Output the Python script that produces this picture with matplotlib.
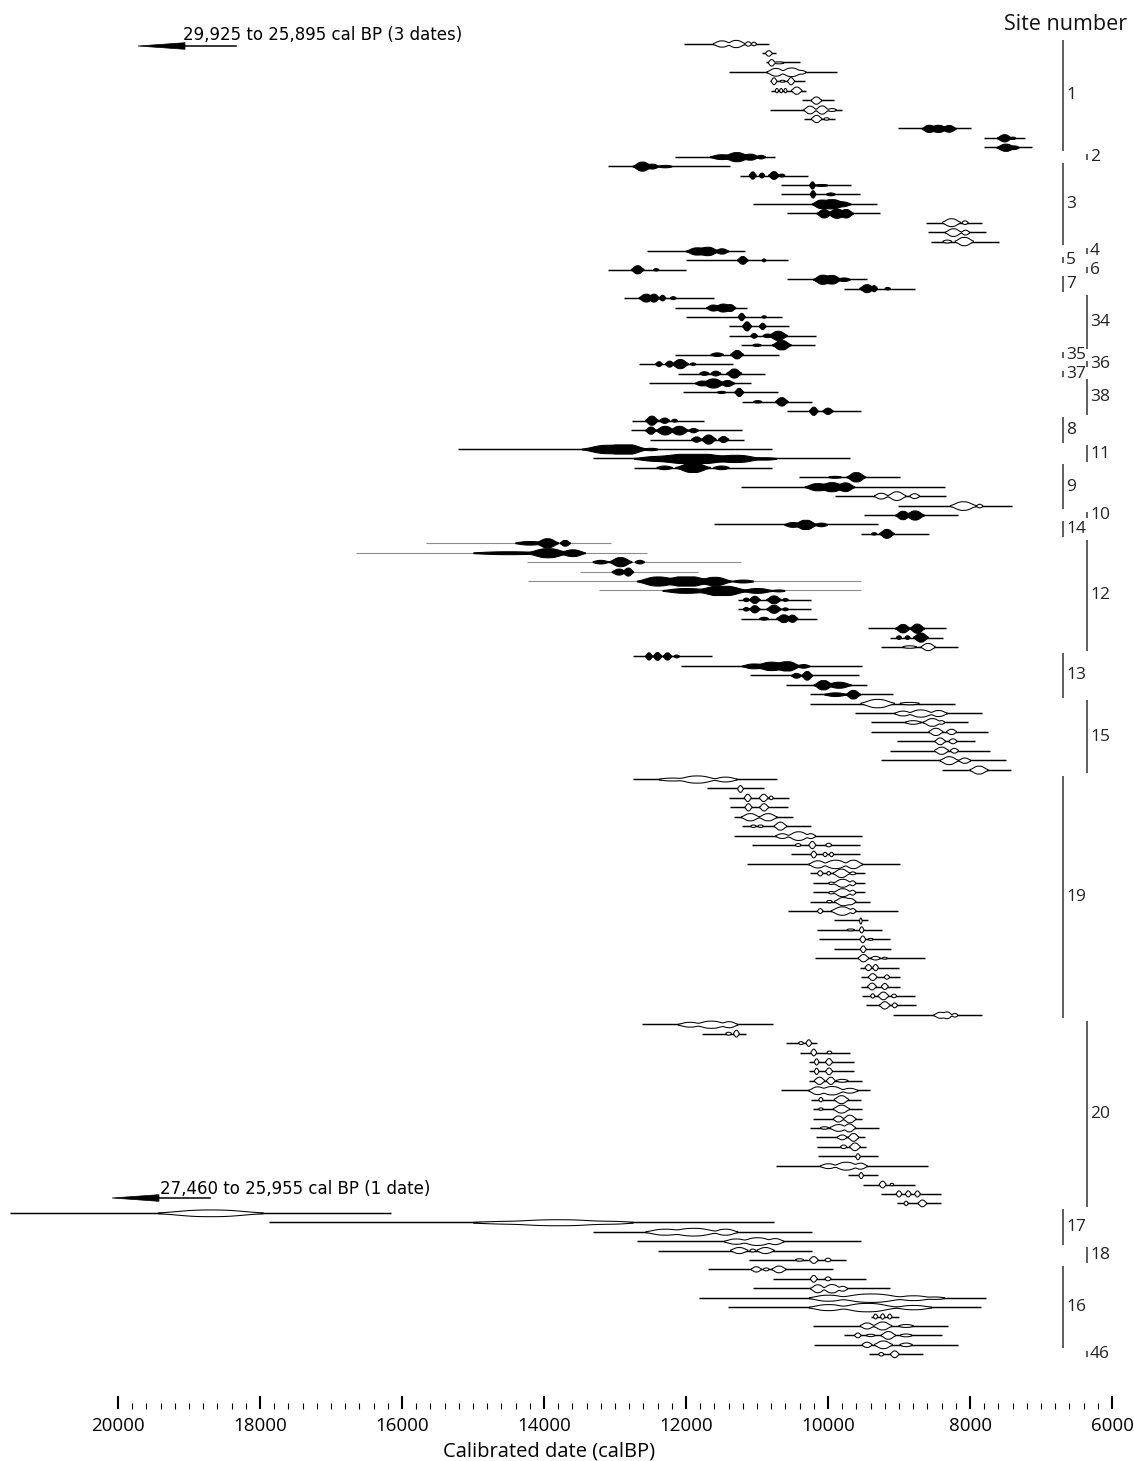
import numpy as np
import matplotlib
matplotlib.use('Agg')
import matplotlib.pyplot as plt
from matplotlib.transforms import Affine2D, blended_transform_factory

# ---------------- data (cal BP) ----------------
# each row: older end of range, younger end of range, peaks [(centre, half-width, half-height px)]
row_ranges_lo = [12035,10930,10870,11390,10820,10805,10365,10815,10345,9020,7800,7800,
 12150,13105,11245,10665,10655,11055,10580,8625,8595,8550,12555,12000,13095,10580,9770,
 12870,12150,12000,11400,11400,11230,12150,12655,12115,12520,12045,11205,10575,12755,
 12780,12505,15215,13310,12730,10410,11230,9895,9015,9500,11610,9535,15655,16650,14245,
 13495,14220,13220,11265,11265,11230,9430,9130,9260,12745,12075,11105,10595,10250,10260,
 9620,9400,9400,9025,9130,9250,8390,12745,11710,11400,11380,11320,11205,11320,11070,10520,
 11140,10260,10210,10210,10250,10570,9910,10150,10120,9910,10185,9545,9535,9535,9525,9460,
 9085,12620,11775,10590,10395,10265,10265,10265,10665,10235,10210,10210,10260,10170,10160,
 10145,10730,9720,9505,9250,9025,21520,17870,13305,12695,12390,11115,11685,10775,11050,
 11815,11405,9395,10215,9770,10195,9425]
row_ranges_hi = [10830,10730,10400,9880,10330,10305,9920,9800,9900,7990,7220,7120,
 10745,11385,10280,9670,9545,9310,9270,7825,7780,7590,11165,10570,12000,9450,8775,
 11600,11145,10645,10555,10175,10185,10695,11345,10885,11090,10700,10230,9540,11740,
 11205,11180,10785,9685,10785,8990,8355,8340,7405,8165,9295,8575,13055,12555,11230,
 11835,9535,9535,10245,10245,10150,8340,8375,8175,11635,9525,9560,9450,9085,8205,
 7825,8025,7745,7930,7720,7495,7420,10715,10895,10555,10565,10490,10235,9525,9545,9545,
 8990,9485,9485,9485,9410,9020,9435,9245,9130,9115,8635,9000,8980,8980,8775,8765,
 7825,10780,11155,10160,9685,9635,9635,9525,9410,9535,9525,9525,9285,9485,9470,
 9300,8585,9300,8770,8415,8415,16160,10755,10230,9535,10230,9740,9935,9470,9120,
 7770,7845,9005,8310,8400,8170,8655]
row_peaks = [
 [(11500,60,2.6),(11300,60,3.0),(11130,30,1.8),(11050,25,1.5)],
 [(10840,30,2.3)],
 [(10800,30,2.7),(10700,50,0.8)],
 [(10740,60,3.2),(10520,70,3.6),(10380,40,1.5)],
 [(10760,25,2.8),(10640,30,0.8),(10520,30,3.0)],
 [(10720,15,1.8),(10660,15,1.8),(10600,15,1.8),(10440,40,3.0)],
 [(10170,40,3.0)],
 [(10260,45,3.2),(10090,45,3.4),(9950,40,1.2)],
 [(10160,40,3.0),(10020,30,1.0)],
 [(8580,50,3.0),(8450,60,3.0),(8300,50,2.8)],
 [(7520,50,3.0),(7400,30,1.0)],
 [(7500,60,3.0),(7380,40,1.5)],
 [(11500,80,2.0),(11290,80,3.8),(11100,60,2.5),(10950,40,1.5)],
 [(12620,60,3.8),(12480,50,2.0),(12300,60,1.0)],
 [(11060,30,3.0),(10930,25,2.0),(10760,40,3.2),(10650,30,1.2)],
 [(10225,25,3.0),(10100,60,0.8)],
 [(10210,25,3.0),(9960,40,1.2)],
 [(10100,60,3.5),(9950,80,4.0),(9800,60,2.0)],
 [(10060,50,3.5),(9880,60,3.8),(9750,50,3.5)],
 [(8260,60,3.3),(8070,30,1.5)],
 [(8240,55,3.2),(8070,35,2.0)],
 [(8320,40,1.2),(8080,60,3.5)],
 [(11850,70,3.0),(11700,70,3.5),(11500,50,2.2)],
 [(11200,40,3.2),(10900,20,1.2)],
 [(12680,45,3.4),(12420,30,1.0)],
 [(10080,60,3.8),(9950,60,3.6),(9780,50,1.5)],
 [(9450,50,3.3),(9350,30,2.5),(9160,30,1.0)],
 [(12560,50,3.3),(12450,40,3.3),(12330,30,2.3),(12180,30,1.2)],
 [(11620,50,2.5),(11480,60,3.3),(11380,40,2.8)],
 [(11215,30,3.0),(10900,25,1.0)],
 [(11140,35,3.8),(10920,30,2.6)],
 [(11040,30,2.0),(10850,40,1.5),(10700,60,3.8)],
 [(11000,40,1.0),(10650,60,4.0)],
 [(11560,50,1.5),(11280,45,3.5)],
 [(12380,30,2.0),(12230,35,2.5),(12080,55,3.8),(11900,30,1.0)],
 [(11740,40,1.5),(11580,40,2.0),(11320,50,3.8)],
 [(11780,50,2.0),(11620,70,3.8),(11420,50,2.5)],
 [(11500,40,0.9),(11250,35,3.4)],
 [(10990,40,1.0),(10650,45,3.5)],
 [(10200,35,3.4),(10000,40,2.6)],
 [(12480,45,3.8),(12300,40,2.2),(12160,30,1.2)],
 [(12500,40,3.0),(12300,60,3.6),(12100,60,3.6),(11900,40,1.8)],
 [(11850,40,2.2),(11680,50,3.8),(11470,40,2.5)],
 [(13100,150,3.5),(12850,120,4.2),(12500,60,1.0)],
 [(12400,150,2.0),(11900,250,4.3),(11300,150,3.0),(10900,100,1.0)],
 [(12300,60,1.5),(11900,100,4.0),(11500,60,1.5)],
 [(9900,60,0.8),(9600,60,4.0)],
 [(10150,80,3.0),(9950,80,3.8),(9760,60,3.6)],
 [(9250,50,2.4),(9030,60,3.6),(8780,40,2.0)],
 [(8100,80,3.6),(7870,30,1.5)],
 [(8950,50,3.5),(8780,60,3.8)],
 [(10500,60,2.0),(10320,70,4.0),(10100,50,1.5)],
 [(9350,30,1.0),(9170,50,3.7)],
 [(14200,100,1.5),(13950,70,3.8),(13700,40,2.4)],
 [(14500,250,1.2),(13950,120,3.8),(13600,80,2.8)],
 [(13200,60,1.5),(12920,70,3.8),(12650,40,1.5)],
 [(12950,50,2.5),(12820,40,3.3)],
 [(12400,120,3.8),(12000,150,4.3),(11600,100,3.5),(11200,80,1.2)],
 [(12000,150,2.0),(11500,150,4.2),(11000,100,2.0),(10700,60,0.8)],
 [(11150,30,1.5),(11030,40,3.0),(10760,50,3.3),(10600,30,1.2)],
 [(11150,30,1.5),(11030,40,3.0),(10760,50,3.3),(10600,30,1.2)],
 [(10900,40,1.2),(10620,50,3.2),(10500,40,3.0)],
 [(8950,50,3.5),(8750,50,3.8)],
 [(9000,25,1.5),(8880,25,1.5),(8690,50,3.8)],
 [(8850,60,1.0),(8590,50,3.0)],
 [(12520,30,3.0),(12400,35,3.2),(12260,35,3.0),(12130,30,1.2)],
 [(11050,80,2.0),(10800,100,3.5),(10580,80,4.0),(10350,50,1.5)],
 [(10450,40,2.0),(10300,40,3.6)],
 [(10070,60,4.0),(9850,80,2.5)],
 [(9900,80,1.5),(9650,50,3.6)],
 [(9300,100,3.5),(8850,80,1.0)],
 [(8950,60,2.0),(8700,80,3.0),(8450,60,2.5)],
 [(8800,60,1.5),(8530,60,3.2),(8400,30,1.5)],
 [(8480,50,3.0),(8260,40,2.2)],
 [(8420,40,2.8),(8240,35,2.0)],
 [(8400,50,3.0),(8220,35,2.0)],
 [(8300,60,3.3),(8080,45,2.2)],
 [(7880,60,3.3)],
 [(12200,100,1.2),(11850,120,3.0),(11450,80,2.0)],
 [(11240,25,2.8)],
 [(11130,30,3.0),(10905,35,3.0),(10800,20,1.5)],
 [(11120,30,3.0),(10900,35,3.0)],
 [(11100,60,3.0),(10850,60,3.0)],
 [(11050,30,1.0),(10950,30,1.0),(10670,45,3.3)],
 [(10650,50,2.0),(10420,70,3.6),(10250,40,2.0)],
 [(10420,30,1.2),(10220,30,3.0),(9990,30,1.5)],
 [(10200,25,2.8),(10040,20,1.8),(9950,20,1.8)],
 [(10150,60,3.0),(9900,80,3.5),(9650,60,3.5)],
 [(10110,25,2.2),(9990,20,1.5),(9810,55,3.5),(9650,30,1.2)],
 [(9960,30,1.0),(9800,60,3.3),(9660,30,2.0)],
 [(9960,30,1.0),(9800,60,3.3),(9660,30,2.0)],
 [(9980,30,1.0),(9780,60,3.4),(9680,40,2.5)],
 [(10110,25,2.0),(9800,70,3.5),(9650,30,2.0)],
 [(9545,12,2.5)],
 [(9680,40,0.8),(9526,20,2.5)],
 [(9510,25,2.8),(9400,30,0.8)],
 [(9511,25,2.8)],
 [(9500,40,3.0),(9330,40,1.5),(9200,30,0.8)],
 [(9430,30,2.5),(9330,25,2.6)],
 [(9370,35,2.8),(9170,25,1.8)],
 [(9380,35,2.8),(9200,30,2.5)],
 [(9370,20,1.8),(9220,40,3.2),(9070,25,1.5)],
 [(9200,40,3.0),(9060,25,2.0)],
 [(8420,50,2.5),(8330,40,2.8),(8220,30,1.5)],
 [(11950,80,2.0),(11650,100,3.0),(11400,60,2.5)],
 [(11400,30,1.2),(11290,25,2.8)],
 [(10380,25,1.2),(10270,25,2.7)],
 [(10200,25,2.8),(9980,25,1.2)],
 [(10160,20,2.6),(9985,30,2.8)],
 [(10160,20,2.6),(9985,30,2.8)],
 [(10120,40,3.0),(9960,35,3.0),(9800,50,1.2)],
 [(10150,60,3.2),(9950,80,3.5),(9700,60,2.0)],
 [(10100,20,1.8),(9810,50,3.3)],
 [(10100,25,1.0),(9810,55,3.3)],
 [(9860,40,2.5),(9700,45,3.2)],
 [(10050,40,1.0),(9850,60,2.8),(9700,45,3.3)],
 [(9800,40,2.0),(9640,40,3.2)],
 [(9780,30,1.5),(9620,40,3.2)],
 [(9585,20,2.5)],
 [(10000,60,2.0),(9750,80,3.3),(9550,50,2.5)],
 [(9540,20,2.5)],
 [(9230,30,2.8),(9100,20,1.0)],
 [(9000,25,2.5),(8870,25,2.5),(8740,25,2.5)],
 [(8900,20,1.8),(8670,35,2.8)],
 [(18700,300,2.8)],
 [(14400,300,1.2),(13800,330,2.5),(13100,180,1.2)],
 [(12300,120,2.5),(11900,150,3.2),(11450,80,2.5)],
 [(11300,80,2.2),(11000,100,3.2),(10750,60,2.5)],
 [(11250,60,2.5),(11060,30,1.2),(10880,60,2.5)],
 [(10400,40,1.0),(10200,35,2.8),(10000,30,1.5)],
 [(11010,40,2.2),(10870,30,1.2),(10690,50,2.8)],
 [(10200,30,2.8),(10000,30,1.6)],
 [(10150,50,3.3),(9950,60,3.5),(9800,40,2.0)],
 [(10000,120,2.5),(9400,200,3.5),(8800,120,2.0),(8500,80,1.0)],
 [(10000,120,2.5),(9450,170,3.5),(8800,120,1.8)],
 [(9330,20,2.0),(9230,20,2.2),(9130,20,2.0)],
 [(9450,50,2.5),(9230,60,3.3),(8900,60,1.2)],
 [(9580,30,2.0),(9400,40,1.0),(9150,50,3.2),(8900,50,1.2)],
 [(9450,40,2.2),(9220,60,3.2),(8900,50,1.5)],
 [(9250,25,1.5),(9060,35,2.8)],
]
white_rows = list(range(0, 9)) + [19, 20, 21, 48, 49, 64] + list(range(70, 140))
grey_rows = [53, 54, 55, 56, 57, 58]

site_names = ['1','2','3','4','5','6','7','34','35','36','37','38','8','11','9','10',
              '14','12','13','15','19','20','17','18','16','46']
site_first = [0,12,13,22,23,24,25,27,33,34,35,36,40,43,45,50,51,53,65,70,78,104,124,128,130,139]
site_last  = [11,12,21,22,23,24,26,32,33,34,35,39,42,44,49,50,52,64,69,77,103,123,127,129,138,139]
site_side  = ['L','R','L','R','L','R','L','R','L','R','L','R','L','R','L','R',
              'L','R','L','R','L','R','L','R','L','R']

major_ticks = list(range(20000, 5999, -2000))
minor_ticks = [t for t in range(20000, 5999, -200) if t % 2000]
tick_labels = [str(t) for t in major_ticks]

# ---------------- layout ----------------
W, H = 1134, 1461
fig = plt.figure(figsize=(W/100, H/100), dpi=100)
ax = fig.add_axes([0, 0, 1, 1])
X20K, X6K = 118, 1112
ypp = 14000 / (X6K - X20K)
xlim = (20000 + X20K*ypp, 6000 - (W - X6K)*ypp)
ax.set_xlim(*xlim)
ax.set_ylim(H, 0)
ax.axis('off')

FONT = ['Open Sans', 'DejaVu Sans']
NARROW = ['Liberation Sans Narrow', 'DejaVu Sans']

def eff_width(w):
    # drawn scale of a bump: small bumps stay compact, broad ones merge
    return 0.95*w + 0.55*max(0.0, w - 30.0)

row_y0, row_dy = 43.5, 9.43
HSCALE, P, EXPO = 1.2, 3.0, 2.6
for i, (lo, hi, pk) in enumerate(zip(row_ranges_lo, row_ranges_hi, row_peaks)):
    y = row_y0 + i*row_dy
    grey = i in grey_rows
    ax.plot([lo, hi], [y, y], color='#8c8c8c' if grey else 'black',
            lw=0.8 if grey else 1.05, solid_capstyle='butt', zorder=1)
    t = np.linspace(hi, lo, 2000)
    acc = np.zeros_like(t)
    for c, w, hp in pk:
        z = np.abs((t - c)/eff_width(w))
        acc += (hp*HSCALE*np.exp(-0.5*z**EXPO))**P
    h = np.minimum(acc**(1.0/P), 4.6)
    mask = h > 0.45
    white = i in white_rows
    ax.fill_between(t, y - h, y + h, where=mask, facecolor='white' if white else 'black',
                    edgecolor='black', lw=0.75, zorder=2)

# site bars
bt = blended_transform_factory(ax.transAxes, ax.transData)
for name, a, b, side in zip(site_names, site_first, site_last, site_side):
    xpx = 1063 if side == 'L' else 1087
    ya = row_y0 + a*row_dy
    yb = row_y0 + b*row_dy
    ext = 3.5 if a != b else 3.0
    ax.plot([xpx/W, xpx/W], [ya - ext, yb + ext], transform=bt, color='#333333',
            lw=1.1, solid_capstyle='butt')
    ax.text((xpx + 3)/W, (ya + yb)/2, name, transform=bt, ha='left', va='center',
            fontsize=12.5, family=FONT, color='#222222')

fig.text(1127/W, 1 - 24/H, 'Site number', ha='right', va='center', fontsize=15.5,
         family=FONT, color='#111111')

# arrows to off-scale dates
pxt = Affine2D().scale(1/W, -1/H).translate(0, 1) + fig.transFigure
def off_arrow(xtip, xhead, xtail, y, txt, xt, yt):
    fig.patches.append(plt.Polygon([(xtip, y), (xhead, y - 3.3), (xhead, y + 3.3)],
                                   closed=True, transform=pxt, facecolor='black',
                                   edgecolor='black', lw=0.5))
    fig.lines.append(plt.Line2D([xhead - 5, xtail], [y, y], transform=pxt, color='black', lw=1.1))
    fig.text(xt/W, 1 - yt/H, txt, ha='left', va='center', fontsize=12, family=NARROW)

off_arrow(138, 185, 236, 46, '29,925 to 25,895 cal BP (3 dates)', 183, 35)
off_arrow(112, 159, 210, 1198, '27,460 to 25,955 cal BP (1 date)', 160, 1189)

# x axis ticks
axt = fig.add_axes([0, (H - 1409)/H, 1, 20/H])
axt.set_xlim(*xlim)
axt.set_ylim(0, 1)
for s in axt.spines.values():
    s.set_visible(False)
axt.patch.set_visible(False)
axt.set_yticks([])
axt.set_xticks(major_ticks)
axt.set_xticklabels(tick_labels, family=FONT)
axt.set_xticks(minor_ticks, minor=True)
axt.tick_params(axis='x', which='major', direction='in', length=9.1, width=1.5,
                pad=6.0, labelsize=13.5, color='black')
axt.tick_params(axis='x', which='minor', direction='in', length=4.5, width=0.8, color='black')

fig.text(549/W, 1 - 1452/H, 'Calibrated date (calBP)', ha='center', va='center',
         fontsize=14.5, family=FONT)

fig.savefig('out.png', dpi=100, facecolor='white')
